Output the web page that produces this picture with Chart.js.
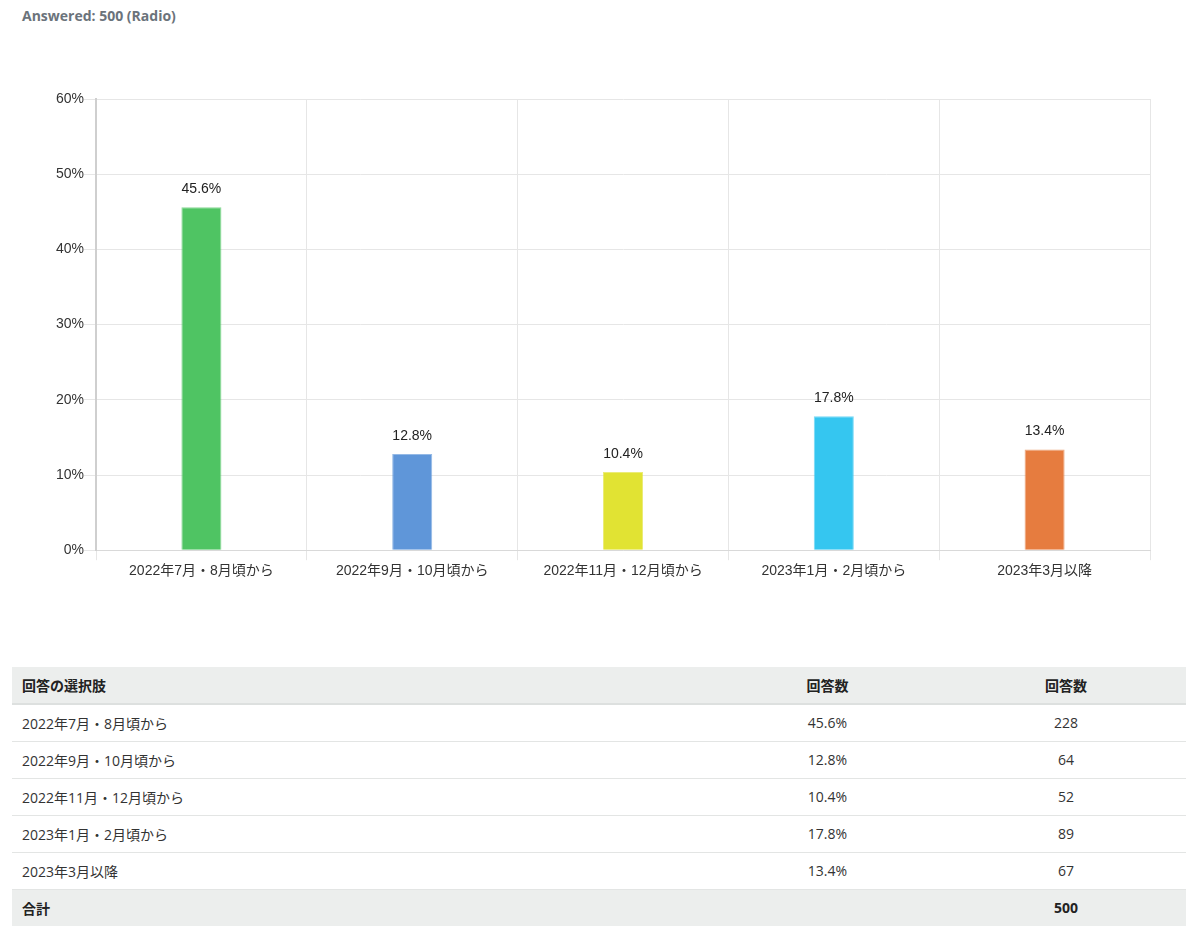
<!DOCTYPE html>
<html><head><meta charset="utf-8">
<script src="https://cdn.jsdelivr.net/npm/chart.js@4/dist/chart.umd.min.js"></script>
<style>
html,body{margin:0;padding:0;background:#fff;width:1199px;height:947px;overflow:hidden;}
#title{position:absolute;left:22px;top:6px;font:bold 14px "Open Sans","Noto Sans CJK JP",sans-serif;color:#6b737b;}
#wrap{position:absolute;left:56px;top:80px;width:1104px;height:503px;}
table{position:absolute;left:12px;top:667px;width:1174px;border-collapse:collapse;font:14px "Open Sans","Noto Sans CJK JP",sans-serif;color:#333;}
td,th{height:37px;padding:0 10px;border-bottom:1px solid #e3e5e4;box-sizing:border-box;}
th{background:#eceeed;font-weight:bold;text-align:left;border-bottom:2px solid #dde0df;color:#222;}
tfoot td{background:#eceeed;font-weight:bold;color:#222;border-bottom:none;}
.c{text-align:center;}
</style></head><body>
<div id="title">Answered: 500 (Radio)</div>
<div id="wrap"><canvas id="c"></canvas></div>
<table id="tbl">
<thead><tr><th style="width:697px">回答の選択肢</th><th class="c" style="width:237px">回答数</th><th class="c">回答数</th></tr></thead>
<tbody id="tb"></tbody>
<tfoot><tr><td>合計</td><td></td><td class="c" id="tot"></td></tr></tfoot>
</table>
<script>
const categories = ["2022年7月・8月頃から","2022年9月・10月頃から","2022年11月・12月頃から","2023年1月・2月頃から","2023年3月以降"];
const percents = [45.6, 12.8, 10.4, 17.8, 13.4];
const counts = [228, 64, 52, 89, 67];
const total = 500;
const yTicks = [0,10,20,30,40,50,60];
const barColors = ["#4fc463","#5f96d9","#e1e333","#35c6f0","#e67c3f"];

const tb = document.getElementById('tb');
categories.forEach((c,i)=>{
  const tr=document.createElement('tr');
  tr.innerHTML=`<td>${c}</td><td class="c">${percents[i].toFixed(1)}%</td><td class="c">${counts[i]}</td>`;
  tb.appendChild(tr);
});
document.getElementById('tot').textContent = total;

const labelPlugin = {
  id:'vals',
  afterDatasetsDraw(chart){
    const ctx=chart.ctx; const meta=chart.getDatasetMeta(0);
    ctx.save();
    ctx.font='14px "Liberation Sans", Arial, sans-serif';
    ctx.fillStyle='#222'; ctx.textAlign='center'; ctx.textBaseline='bottom';
    meta.data.forEach((b,i)=>{ ctx.fillText(percents[i].toFixed(1)+'%', b.x, b.y-11); });
    ctx.restore();
  }
};

new Chart(document.getElementById('c'),{
  type:'bar',
  data:{labels:categories,datasets:[{data:percents,backgroundColor:barColors,borderColor:barColors.map(c=>c+'aa'),borderWidth:1,barPercentage:0.19,categoryPercentage:1}]},
  options:{
    responsive:true,maintainAspectRatio:false,animation:false,
    layout:{padding:{left:0,right:10,top:19,bottom:0}},
    plugins:{legend:{display:false},tooltip:{enabled:false}},
    scales:{
      x:{grid:{color:'#e6e6e6',offset:true,tickLength:10},border:{color:'#d9d9d9'},
         ticks:{color:'#333',font:{size:14,family:'"Liberation Sans","Noto Sans CJK JP",sans-serif'},maxRotation:0,autoSkip:false}},
      y:{min:0,max:60,afterBuildTicks(a){a.ticks=yTicks.map(v=>({value:v}));},
         grid:{color:'#e6e6e6',tickLength:12},border:{color:'#cfcfcf',width:2},
         ticks:{color:'#333',padding:0,font:{size:14,family:'"Liberation Sans",Arial,sans-serif'},callback:v=>v+'%'}}
    }
  },
  plugins:[labelPlugin]
});
</script>
</body></html>
